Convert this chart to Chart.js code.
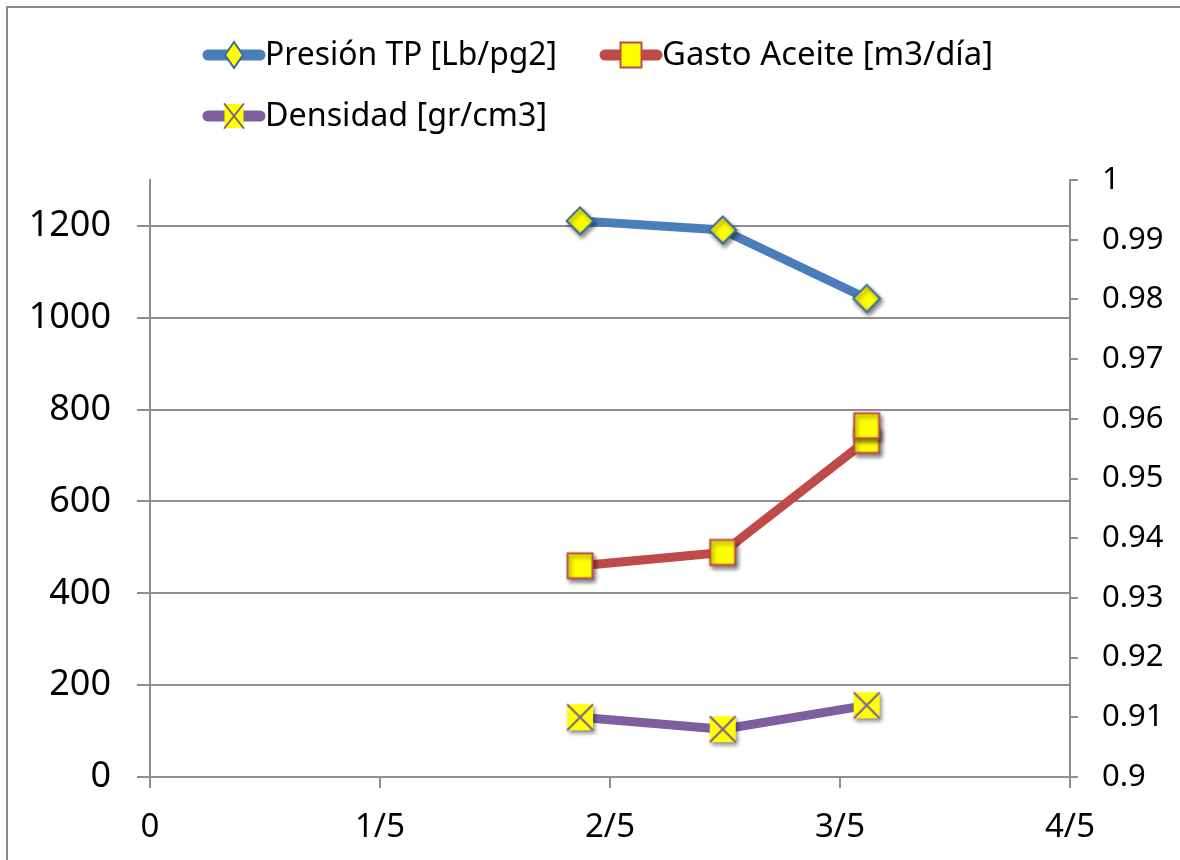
<!DOCTYPE html>
<html>
<head>
<meta charset="utf-8">
<script src="https://cdn.jsdelivr.net/npm/chart.js@4.4.1/dist/chart.umd.min.js"></script>
<style>
  html, body { margin: 0; padding: 0; background: #fff; }
  #wrap { width: 1180px; height: 860px; }
</style>
</head>
<body>
<div id="wrap"><canvas id="chart" width="1180" height="860"></canvas></div>
<script>
// Data
const fechas = [1.870, 2.490, 3.116];
const fechasGasto = [1.870, 2.490, 3.116, 3.116];
const presion = [1211, 1191, 1042];
const gasto = [460, 489, 733, 765];
const densidad = [0.910, 0.908, 0.912];

const seriesNames = ['Presión TP [Lb/pg2]', 'Gasto Aceite [m3/día]', 'Densidad [gr/cm3]'];
const xTicks = [0, 1, 2, 3, 4];
const xTickLabels = ['0', '1/5', '2/5', '3/5', '4/5'];
const yLeftTicks = [0, 200, 400, 600, 800, 1000, 1200];
const yRightTicks = [0.9, 0.91, 0.92, 0.93, 0.94, 0.95, 0.96, 0.97, 0.98, 0.99, 1];

const BLUE = '#4A7EBB';
const RED = '#BE4B48';
const PURPLE = '#7D5FA0';
const GRID = '#8e8e8e';
const FONT = "'Noto Sans', 'Liberation Sans', sans-serif";

// draw one marker shape centred at cx, cy
const drawShape = (ctx, shape, cx, cy, w, h, color) => {
  ctx.fillStyle = '#ffff00';
  ctx.strokeStyle = color;
  ctx.lineWidth = 2;
  ctx.beginPath();
  if (shape === 'diamond') {
    ctx.moveTo(cx, cy - h / 2);
    ctx.lineTo(cx + w / 2, cy);
    ctx.lineTo(cx, cy + h / 2);
    ctx.lineTo(cx - w / 2, cy);
    ctx.closePath();
    ctx.fill();
    ctx.stroke();
  } else if (shape === 'square') {
    ctx.rect(cx - w / 2, cy - h / 2, w, h);
    ctx.fill();
    ctx.stroke();
  } else {
    ctx.rect(cx - w / 2, cy - h / 2, w, h);
    ctx.fill();
    ctx.shadowColor = 'transparent';
    ctx.beginPath();
    ctx.moveTo(cx - w / 2, cy - h / 2);
    ctx.lineTo(cx + w / 2, cy + h / 2);
    ctx.moveTo(cx + w / 2, cy - h / 2);
    ctx.lineTo(cx - w / 2, cy + h / 2);
    ctx.stroke();
  }
};

// marker images with a soft drop shadow
const makeMarker = (shape, color, w, h) => {
  const c = document.createElement('canvas');
  c.width = 44;
  c.height = 44;
  const ctx = c.getContext('2d');
  ctx.shadowColor = 'rgba(0,0,0,0.45)';
  ctx.shadowBlur = 4;
  ctx.shadowOffsetX = 2;
  ctx.shadowOffsetY = 3;
  drawShape(ctx, shape, 22, 22, w, h, color);
  return c;
};

const markerPresion = makeMarker('diamond', '#3c6a9c', 27, 27);
const markerGasto = makeMarker('square', RED, 25, 25);
const markerDensidad = makeMarker('cross', '#7a6090', 26, 26);

const toPoints = (xs, ys) => xs.map((x, i) => ({ x: x, y: ys[i] }));

// white background + chart frame
const framePlugin = {
  id: 'frame',
  beforeDraw(chart) {
    const ctx = chart.ctx;
    ctx.save();
    ctx.fillStyle = '#fff';
    ctx.fillRect(0, 0, chart.width, chart.height);
    ctx.strokeStyle = '#8a8a8a';
    ctx.lineWidth = 2;
    ctx.beginPath();
    ctx.moveTo(7, chart.height);
    ctx.lineTo(7, 7);
    ctx.lineTo(chart.width, 7);
    ctx.stroke();
    ctx.restore();
  }
};

// Excel-style legend: thick line with the marker in the middle
const legendPlugin = {
  id: 'excelLegend',
  afterDraw(chart) {
    const ctx = chart.ctx;
    const items = [
      { x: 203, y: 55, color: BLUE, shape: 'diamond', mw: 18, mh: 26, mc: '#3c6a9c', maxW: 292 },
      { x: 600, y: 55, color: RED, shape: 'square', mw: 21, mh: 25, mc: RED, maxW: 331 },
      { x: 203, y: 116, color: PURPLE, shape: 'cross', mw: 19, mh: 24, mc: '#7a6090', maxW: 282 }
    ];
    ctx.save();
    items.forEach((it, i) => {
      ctx.strokeStyle = it.color;
      ctx.lineWidth = 11;
      ctx.lineCap = 'round';
      ctx.beginPath();
      ctx.moveTo(it.x + 5, it.y);
      ctx.lineTo(it.x + 57, it.y);
      ctx.stroke();
      drawShape(ctx, it.shape, it.x + 31, it.y, it.mw, it.mh, it.mc);
      ctx.fillStyle = '#000';
      ctx.font = '33px ' + FONT;
      ctx.textBaseline = 'middle';
      ctx.textAlign = 'left';
      ctx.fillText(seriesNames[i], it.x + 62, it.y + 1, it.maxW);
    });
    ctx.restore();
  }
};

const lineStyle = (color, marker) => ({
  borderColor: color,
  backgroundColor: color,
  borderWidth: 9,
  borderCapStyle: 'round',
  borderJoinStyle: 'round',
  pointStyle: marker,
  pointRadius: 13,
  tension: 0,
  fill: false
});

new Chart(document.getElementById('chart'), {
  type: 'line',
  data: {
    datasets: [
      Object.assign({ label: seriesNames[0], data: toPoints(fechas, presion), yAxisID: 'y' }, lineStyle(BLUE, markerPresion)),
      Object.assign({ label: seriesNames[1], data: toPoints(fechasGasto, gasto), yAxisID: 'y' }, lineStyle(RED, markerGasto)),
      Object.assign({ label: seriesNames[2], data: toPoints(fechas, densidad), yAxisID: 'y1' }, lineStyle(PURPLE, markerDensidad))
    ]
  },
  options: {
    responsive: false,
    animation: false,
    events: [],
    layout: { padding: { top: 180, left: 0, right: 0, bottom: 0 } },
    plugins: {
      legend: { display: false },
      tooltip: { enabled: false }
    },
    scales: {
      x: {
        type: 'linear',
        position: 'bottom',
        min: 0,
        max: 4,
        afterBuildTicks: (scale) => { scale.ticks = xTicks.map(v => ({ value: v })); },
        afterFit: (scale) => { scale.height = 83; },
        ticks: {
          color: '#000',
          font: { family: FONT, size: 33 },
          padding: 20,
          maxRotation: 0,
          callback: (v, i) => xTickLabels[i]
        },
        grid: { drawOnChartArea: false, drawTicks: true, tickLength: 11, color: GRID, lineWidth: 2 },
        border: { display: true, color: GRID, width: 2 }
      },
      y: {
        type: 'linear',
        position: 'left',
        min: 0,
        max: 1300,
        afterBuildTicks: (scale) => { scale.ticks = yLeftTicks.map(v => ({ value: v })); },
        afterFit: (scale) => { scale.width = 150; },
        ticks: {
          color: '#000',
          font: { family: FONT, size: 36 },
          padding: 26,
          callback: (v) => String(v)
        },
        grid: { color: GRID, lineWidth: 2, tickLength: 13 },
        border: { display: true, color: GRID, width: 2 }
      },
      y1: {
        type: 'linear',
        position: 'right',
        min: 0.9,
        max: 1,
        afterBuildTicks: (scale) => { scale.ticks = yRightTicks.map(v => ({ value: v })); },
        afterFit: (scale) => { scale.width = 110; },
        ticks: {
          color: '#000',
          font: { family: FONT, size: 31 },
          padding: 24,
          callback: (v) => String(+v.toFixed(2))
        },
        grid: { drawOnChartArea: false, drawTicks: true, tickLength: 8, color: GRID, lineWidth: 2 },
        border: { display: true, color: GRID, width: 2 }
      }
    }
  },
  plugins: [framePlugin, legendPlugin]
});
</script>
</body>
</html>
